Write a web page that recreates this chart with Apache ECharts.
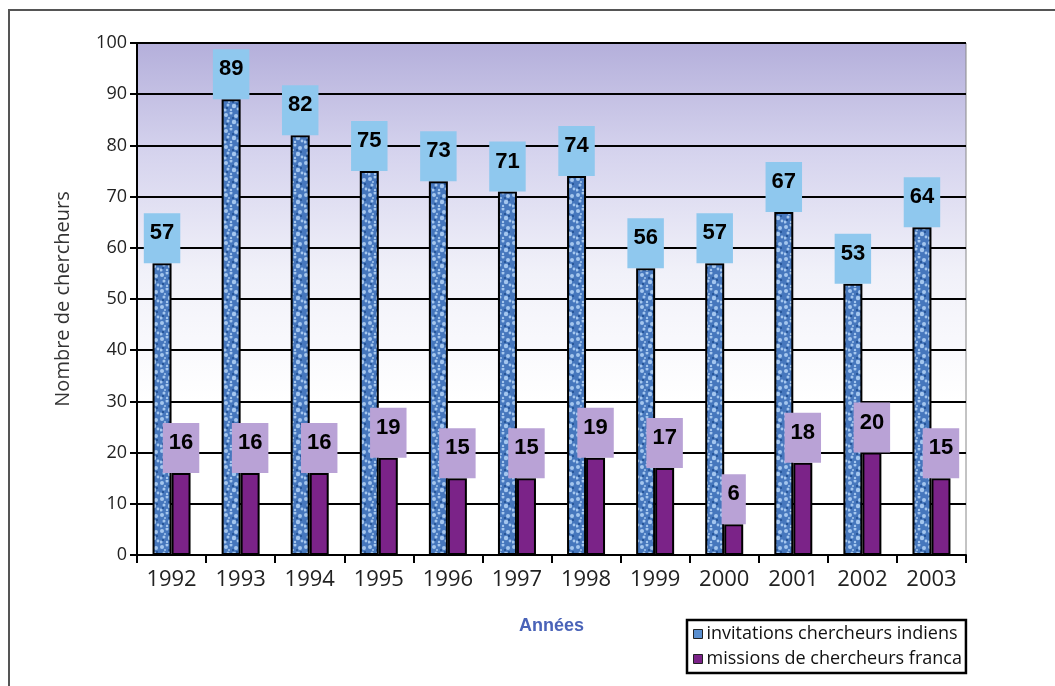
<!DOCTYPE html>
<html>
<head>
<meta charset="utf-8">
<script src="https://cdn.jsdelivr.net/npm/echarts@6/dist/echarts.min.js"></script>
<style>
  html, body { margin: 0; padding: 0; background: #fff; }
  #chart { width: 1055px; height: 686px; }
</style>
</head>
<body>
<div id="chart"></div>
<script>
// data
const years = ['1992', '1993', '1994', '1995', '1996', '1997', '1998', '1999', '2000', '2001', '2002', '2003']
const invitationsIndiens = [57, 89, 82, 75, 73, 71, 74, 56, 57, 67, 53, 64]
const missionsFrancais = [16, 16, 16, 19, 15, 15, 19, 17, 6, 18, 20, 15]
const seriesNames = ['invitations chercheurs indiens', 'missions de chercheurs franca']

// speckled blue texture for the first series (fixed dot layout)
const makeTexture = () => {
  const c = document.createElement('canvas')
  c.width = 16
  c.height = 16
  const ctx = c.getContext('2d')
  ctx.fillStyle = '#4677bd'
  ctx.fillRect(0, 0, 16, 16)
  const dots = [[2, 3, 2], [7, 1, 1.5], [12, 4, 2], [4, 9, 1.5], [10, 10, 2.2], [14, 13, 1.4], [1, 14, 1.6], [7, 14, 1.2], [5, 6, 1]]
  ctx.fillStyle = '#a4c6ee'
  dots.forEach(([x, y, r]) => {
    ctx.beginPath()
    ctx.arc(x, y, r, 0, Math.PI * 2)
    ctx.fill()
  })
  ctx.fillStyle = '#1f4c8f'
  ;[[9, 6, 1], [3, 12, 1], [13, 8, 1]].forEach(([x, y, r]) => {
    ctx.beginPath()
    ctx.arc(x, y, r, 0, Math.PI * 2)
    ctx.fill()
  })
  return c
}

const chart = echarts.init(document.getElementById('chart'))

const labelStyle = (bg) => ({
  show: true,
  position: 'top',
  distance: 0,
  color: '#000',
  fontFamily: 'Liberation Sans, Arial, sans-serif',
  fontWeight: 'bold',
  fontSize: 22,
  lineHeight: 22,
  backgroundColor: bg,
  padding: [9, 6, 19, 6]
})

chart.setOption({
  animation: false,
  textStyle: { fontFamily: 'Open Sans, DejaVu Sans, sans-serif' },
  graphic: [
    {
      type: 'polyline',
      shape: { points: [[9, 686], [9, 10], [1055, 10]] },
      style: { stroke: '#555', lineWidth: 2, fill: null },
      silent: true
    }
  ],
  grid: {
    left: 137,
    right: 89,
    top: 43,
    bottom: 131,
    show: true,
    borderColor: '#888',
    borderWidth: 1,
    backgroundColor: {
      type: 'linear', x: 0, y: 0, x2: 0, y2: 1,
      colorStops: [
        { offset: 0, color: '#b4afdb' },
        { offset: 0.22, color: '#d6d4ee' },
        { offset: 0.45, color: '#f1f1f9' },
        { offset: 0.7, color: '#ffffff' },
        { offset: 1, color: '#ffffff' }
      ]
    }
  },
  legend: {
    orient: 'vertical',
    left: 687,
    top: 620,
    padding: [5, 4, 5, 6],
    itemGap: 7,
    itemWidth: 9,
    itemHeight: 9,
    borderColor: '#000',
    borderWidth: 2.5,
    backgroundColor: '#fff',
    icon: 'rect',
    itemStyle: { borderColor: '#222', borderWidth: 1 },
    textStyle: { fontSize: 18, color: '#111', fontFamily: 'Open Sans, sans-serif', padding: [0, 0, 0, -1] },
    data: [
      { name: seriesNames[0], itemStyle: { color: '#5a8fd0' } },
      { name: seriesNames[1], itemStyle: { color: '#7b2388' } }
    ]
  },
  xAxis: {
    type: 'category',
    data: years,
    name: 'Années',
    nameLocation: 'middle',
    nameGap: 62,
    nameTextStyle: { color: '#4a63b8', fontWeight: 'bold', fontSize: 18, fontFamily: 'Liberation Sans, Arial, sans-serif' },
    axisLine: { lineStyle: { color: '#000', width: 2 } },
    axisTick: { show: true, length: 8, lineStyle: { color: '#000', width: 2 } },
    axisLabel: { color: '#222', fontSize: 22, margin: 14 }
  },
  yAxis: {
    type: 'value',
    min: 0,
    max: 100,
    interval: 10,
    name: 'Nombre de chercheurs',
    nameLocation: 'middle',
    nameGap: 64,
    nameTextStyle: { color: '#333', fontSize: 20 },
    axisLine: { show: true, lineStyle: { color: '#000', width: 2 } },
    axisTick: { show: true, length: 7, lineStyle: { color: '#000', width: 2 } },
    axisLabel: { color: '#222', fontSize: 18, margin: 10 },
    splitLine: { lineStyle: { color: '#000', width: 2 } }
  },
  series: [
    {
      name: seriesNames[0],
      type: 'bar',
      data: invitationsIndiens,
      barWidth: 19,
      barGap: '0%',
      itemStyle: {
        color: { image: makeTexture(), repeat: 'repeat' },
        borderColor: '#000',
        borderWidth: 2
      },
      label: labelStyle('#8fc8ee'),
      z: 3
    },
    {
      name: seriesNames[1],
      type: 'bar',
      data: missionsFrancais,
      barWidth: 19,
      itemStyle: {
        color: '#7b2388',
        borderColor: '#000',
        borderWidth: 2
      },
      label: labelStyle('#b9a2d6'),
      z: 3
    }
  ]
})
</script>
</body>
</html>
